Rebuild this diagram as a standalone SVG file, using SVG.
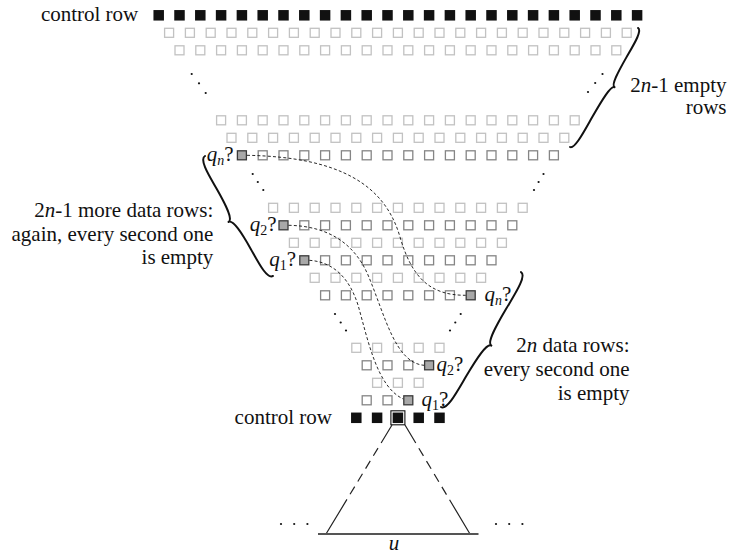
<svg xmlns="http://www.w3.org/2000/svg" xmlns:xlink="http://www.w3.org/1999/xlink" width="730" height="554" viewBox="0 0 730 554">
<style>
.t{font-family:"Liberation Serif","Times New Roman",serif;font-size:21px;fill:#111}
.i{font-style:italic}
.sub{font-size:14px}
.c{fill:#111;stroke:none}
.e{fill:#fff;stroke:#c2c2c2;stroke-width:1.3}
.d{fill:#fff;stroke:#858585;stroke-width:1.3}
.q{fill:#a8a8a8;stroke:#3a3a3a;stroke-width:1.3}
.dash{fill:none;stroke:#111;stroke-width:0.9;stroke-dasharray:3 2.2}
.brace{fill:none;stroke:#111;stroke-width:2;stroke-linecap:round;stroke-linejoin:round}
.dot{fill:#111}
</style>
<defs>
<rect id="s" x="-4.5" y="-4.5" width="9" height="9"/>
<rect id="b" x="-5.25" y="-5.25" width="10.5" height="10.5"/>
</defs>
<rect width="730" height="554" fill="#fff"/>

<g id="row0" class="c" transform="translate(158.7,15.3)">
<use href="#b" x="0"/><use href="#b" x="20.8"/><use href="#b" x="41.6"/><use href="#b" x="62.4"/><use href="#b" x="83.2"/><use href="#b" x="104"/><use href="#b" x="124.8"/><use href="#b" x="145.6"/><use href="#b" x="166.4"/><use href="#b" x="187.2"/><use href="#b" x="208"/><use href="#b" x="228.8"/><use href="#b" x="249.6"/><use href="#b" x="270.4"/><use href="#b" x="291.2"/><use href="#b" x="312"/><use href="#b" x="332.8"/><use href="#b" x="353.6"/><use href="#b" x="374.4"/><use href="#b" x="395.2"/><use href="#b" x="416"/><use href="#b" x="436.8"/><use href="#b" x="457.6"/><use href="#b" x="478.4"/>
</g>
<g id="row1" class="e" transform="translate(169.1,32.8)">
<use href="#s" x="0"/><use href="#s" x="20.8"/><use href="#s" x="41.6"/><use href="#s" x="62.4"/><use href="#s" x="83.2"/><use href="#s" x="104"/><use href="#s" x="124.8"/><use href="#s" x="145.6"/><use href="#s" x="166.4"/><use href="#s" x="187.2"/><use href="#s" x="208"/><use href="#s" x="228.8"/><use href="#s" x="249.6"/><use href="#s" x="270.4"/><use href="#s" x="291.2"/><use href="#s" x="312"/><use href="#s" x="332.8"/><use href="#s" x="353.6"/><use href="#s" x="374.4"/><use href="#s" x="395.2"/><use href="#s" x="416"/><use href="#s" x="436.8"/><use href="#s" x="457.6"/>
</g>
<g id="row2" class="e" transform="translate(179.5,50.3)">
<use href="#s" x="0"/><use href="#s" x="20.8"/><use href="#s" x="41.6"/><use href="#s" x="62.4"/><use href="#s" x="83.2"/><use href="#s" x="104"/><use href="#s" x="124.8"/><use href="#s" x="145.6"/><use href="#s" x="166.4"/><use href="#s" x="187.2"/><use href="#s" x="208"/><use href="#s" x="228.8"/><use href="#s" x="249.6"/><use href="#s" x="270.4"/><use href="#s" x="291.2"/><use href="#s" x="312"/><use href="#s" x="332.8"/><use href="#s" x="353.6"/><use href="#s" x="374.4"/><use href="#s" x="395.2"/><use href="#s" x="416"/><use href="#s" x="436.8"/>
</g>
<g id="row6" class="e" transform="translate(221.1,120.3)">
<use href="#s" x="0"/><use href="#s" x="20.8"/><use href="#s" x="41.6"/><use href="#s" x="62.4"/><use href="#s" x="83.2"/><use href="#s" x="104"/><use href="#s" x="124.8"/><use href="#s" x="145.6"/><use href="#s" x="166.4"/><use href="#s" x="187.2"/><use href="#s" x="208"/><use href="#s" x="228.8"/><use href="#s" x="249.6"/><use href="#s" x="270.4"/><use href="#s" x="291.2"/><use href="#s" x="312"/><use href="#s" x="332.8"/><use href="#s" x="353.6"/>
</g>
<g id="row7" class="e" transform="translate(231.5,137.8)">
<use href="#s" x="0"/><use href="#s" x="20.8"/><use href="#s" x="41.6"/><use href="#s" x="62.4"/><use href="#s" x="83.2"/><use href="#s" x="104"/><use href="#s" x="124.8"/><use href="#s" x="145.6"/><use href="#s" x="166.4"/><use href="#s" x="187.2"/><use href="#s" x="208"/><use href="#s" x="228.8"/><use href="#s" x="249.6"/><use href="#s" x="270.4"/><use href="#s" x="291.2"/><use href="#s" x="312"/><use href="#s" x="332.8"/>
</g>
<g id="row8" class="d" transform="translate(241.9,155.3)">
<use href="#s" x="0" class="q"/><use href="#s" x="20.8"/><use href="#s" x="41.6"/><use href="#s" x="62.4"/><use href="#s" x="83.2"/><use href="#s" x="104"/><use href="#s" x="124.8"/><use href="#s" x="145.6"/><use href="#s" x="166.4"/><use href="#s" x="187.2"/><use href="#s" x="208"/><use href="#s" x="228.8"/><use href="#s" x="249.6"/><use href="#s" x="270.4"/><use href="#s" x="291.2"/><use href="#s" x="312"/>
</g>
<g id="row11" class="e" transform="translate(273.1,207.8)">
<use href="#s" x="0"/><use href="#s" x="20.8"/><use href="#s" x="41.6"/><use href="#s" x="62.4"/><use href="#s" x="83.2"/><use href="#s" x="104"/><use href="#s" x="124.8"/><use href="#s" x="145.6"/><use href="#s" x="166.4"/><use href="#s" x="187.2"/><use href="#s" x="208"/><use href="#s" x="228.8"/><use href="#s" x="249.6"/>
</g>
<g id="row12" class="d" transform="translate(283.5,225.3)">
<use href="#s" x="0" class="q"/><use href="#s" x="20.8"/><use href="#s" x="41.6"/><use href="#s" x="62.4"/><use href="#s" x="83.2"/><use href="#s" x="104"/><use href="#s" x="124.8"/><use href="#s" x="145.6"/><use href="#s" x="166.4"/><use href="#s" x="187.2"/><use href="#s" x="208"/><use href="#s" x="228.8"/>
</g>
<g id="row13" class="e" transform="translate(293.9,242.8)">
<use href="#s" x="0"/><use href="#s" x="20.8"/><use href="#s" x="41.6"/><use href="#s" x="62.4"/><use href="#s" x="83.2"/><use href="#s" x="104"/><use href="#s" x="124.8"/><use href="#s" x="145.6"/><use href="#s" x="166.4"/><use href="#s" x="187.2"/><use href="#s" x="208"/>
</g>
<g id="row14" class="d" transform="translate(304.3,260.3)">
<use href="#s" x="0" class="q"/><use href="#s" x="20.8"/><use href="#s" x="41.6"/><use href="#s" x="62.4"/><use href="#s" x="83.2"/><use href="#s" x="104"/><use href="#s" x="124.8"/><use href="#s" x="145.6"/><use href="#s" x="166.4"/><use href="#s" x="187.2"/>
</g>
<g id="row15" class="e" transform="translate(314.7,277.8)">
<use href="#s" x="0"/><use href="#s" x="20.8"/><use href="#s" x="41.6"/><use href="#s" x="62.4"/><use href="#s" x="83.2"/><use href="#s" x="104"/><use href="#s" x="124.8"/><use href="#s" x="145.6"/><use href="#s" x="166.4"/>
</g>
<g id="row16" class="d" transform="translate(325.1,295.3)">
<use href="#s" x="0"/><use href="#s" x="20.8"/><use href="#s" x="41.6"/><use href="#s" x="62.4"/><use href="#s" x="83.2"/><use href="#s" x="104"/><use href="#s" x="124.8"/><use href="#s" x="145.6" class="q"/>
</g>
<g id="row19" class="e" transform="translate(356.3,347.8)">
<use href="#s" x="0"/><use href="#s" x="20.8"/><use href="#s" x="41.6"/><use href="#s" x="62.4"/><use href="#s" x="83.2"/>
</g>
<g id="row20" class="d" transform="translate(366.7,365.3)">
<use href="#s" x="0"/><use href="#s" x="20.8"/><use href="#s" x="41.6"/><use href="#s" x="62.4" class="q"/>
</g>
<g id="row21" class="e" transform="translate(377.1,382.8)">
<use href="#s" x="0"/><use href="#s" x="20.8"/><use href="#s" x="41.6"/>
</g>
<g id="row22" class="d" transform="translate(366.7,400.3)">
<use href="#s" x="0"/><use href="#s" x="20.8"/><use href="#s" x="41.6" class="q"/>
</g>
<g id="row23" class="c" transform="translate(356.3,417.8)">
<use href="#b" x="0"/><use href="#b" x="20.8"/><use href="#b" x="41.6"/><use href="#b" x="62.4"/><use href="#b" x="83.2"/>
<rect x="34.6" y="-7" width="14" height="14" fill="none" stroke="#111" stroke-width="1.1"/>
</g>

<g id="dots" class="dot">
<circle cx="191.7" cy="74" r="1.1"/><circle cx="199" cy="83.3" r="1.1"/><circle cx="205.7" cy="93" r="1.1"/>
<circle cx="588" cy="92" r="1.1"/><circle cx="595.2" cy="83" r="1.1"/><circle cx="602.5" cy="74" r="1.1"/>
<circle cx="252.7" cy="174" r="1.1"/><circle cx="257.8" cy="182" r="1.1"/><circle cx="263.3" cy="190" r="1.1"/>
<circle cx="534" cy="190" r="1.1"/><circle cx="538.6" cy="182" r="1.1"/><circle cx="543.5" cy="174" r="1.1"/>
<circle cx="335" cy="314" r="1.1"/><circle cx="340.7" cy="322.5" r="1.1"/><circle cx="346" cy="330.5" r="1.1"/>
<circle cx="450" cy="330.5" r="1.1"/><circle cx="455.3" cy="322.5" r="1.1"/><circle cx="460.7" cy="314" r="1.1"/>
<circle cx="281" cy="524" r="1.1"/><circle cx="294.2" cy="524" r="1.1"/><circle cx="307.4" cy="524" r="1.1"/>
<circle cx="496" cy="524" r="1.1"/><circle cx="509.2" cy="524" r="1.1"/><circle cx="522.4" cy="524" r="1.1"/>
</g>

<g id="connectors">
<path class="dash" d="M246.9,155.3 C340,157 385,185 400,237 C412,278 430,295.3 465.7,295.3"/>
<path class="dash" d="M288.5,225.3 C330,226 355,245 368,275 C385,315 395,363 424.1,365.3"/>
<path class="dash" d="M309.3,260.3 C335,262 350,280 358,305 C368,340 377,387 403.3,399"/>
</g>

<g id="tree">
<path d="M392,425 L326,534" fill="none" stroke="#222" stroke-width="1.2" stroke-dasharray="21 6 9 6 9 6 9 6 9 6 60"/>
<path d="M405,425 L470,534" fill="none" stroke="#222" stroke-width="1.2" stroke-dasharray="21 6 9 6 9 6 9 6 9 6 60"/>
<line x1="318" y1="534" x2="478.5" y2="534" stroke="#555" stroke-width="2"/>
</g>

<g id="braces">
<path class="brace" transform="translate(570,147) rotate(-60.26)" d="M0 0 C0 5.4 22.2 4.5 37 4.5 C56.2 4.5 74 4.95 74 9 C74 4.95 89.1 4.5 105.5 4.5 C118.7 4.5 137.06 5.4 137.06 0"/>
<path class="brace" transform="translate(205,156) rotate(60.46)" d="M0 0 C0 7.2 20.7 6 34.5 6 C52.4 6 69 6.6 69 12 C69 6.6 85.5 6 103.4 6 C117.2 6 137.9 7.2 137.9 0"/>
<path class="brace" transform="translate(441,407) rotate(-59.35)" d="M0 0 C0 7.2 23.5 6 39.2 6 C59.6 6 78.5 6.6 78.5 12 C78.5 6.6 97.3 6 117.7 6 C133.4 6 156.9 7.2 156.9 0"/>
</g>

<g id="labels" class="t">
<text x="138.3" y="21" text-anchor="end">control row</text>
<text x="332" y="424" text-anchor="end">control row</text>
<text x="726.5" y="91.5" text-anchor="end">2<tspan class="i">n</tspan>-1 empty</text>
<text x="726.5" y="114" text-anchor="end">rows</text>
<text x="213.3" y="217" text-anchor="end">2<tspan class="i">n</tspan>-1 more data rows:</text>
<text x="213.3" y="240.5" text-anchor="end">again, every second one</text>
<text x="213.3" y="264" text-anchor="end">is empty</text>
<text x="629.5" y="351.5" text-anchor="end">2<tspan class="i">n</tspan> data rows:</text>
<text x="629.5" y="375.5" text-anchor="end">every second one</text>
<text x="629.5" y="399.5" text-anchor="end">is empty</text>
<text x="233.5" y="161" text-anchor="end"><tspan class="i">q</tspan><tspan class="i sub" dy="4">n</tspan><tspan dy="-4">?</tspan></text>
<text x="276.5" y="231" text-anchor="end"><tspan class="i">q</tspan><tspan class="sub" dy="4">2</tspan><tspan dy="-4">?</tspan></text>
<text x="296" y="266" text-anchor="end"><tspan class="i">q</tspan><tspan class="sub" dy="4">1</tspan><tspan dy="-4">?</tspan></text>
<text x="484.5" y="301"><tspan class="i">q</tspan><tspan class="i sub" dy="4">n</tspan><tspan dy="-4">?</tspan></text>
<text x="436.5" y="371"><tspan class="i">q</tspan><tspan class="sub" dy="4">2</tspan><tspan dy="-4">?</tspan></text>
<text x="421.5" y="406"><tspan class="i">q</tspan><tspan class="sub" dy="4">1</tspan><tspan dy="-4">?</tspan></text>
<text x="394" y="550" text-anchor="middle" class="i">u</text>
</g>
</svg>
